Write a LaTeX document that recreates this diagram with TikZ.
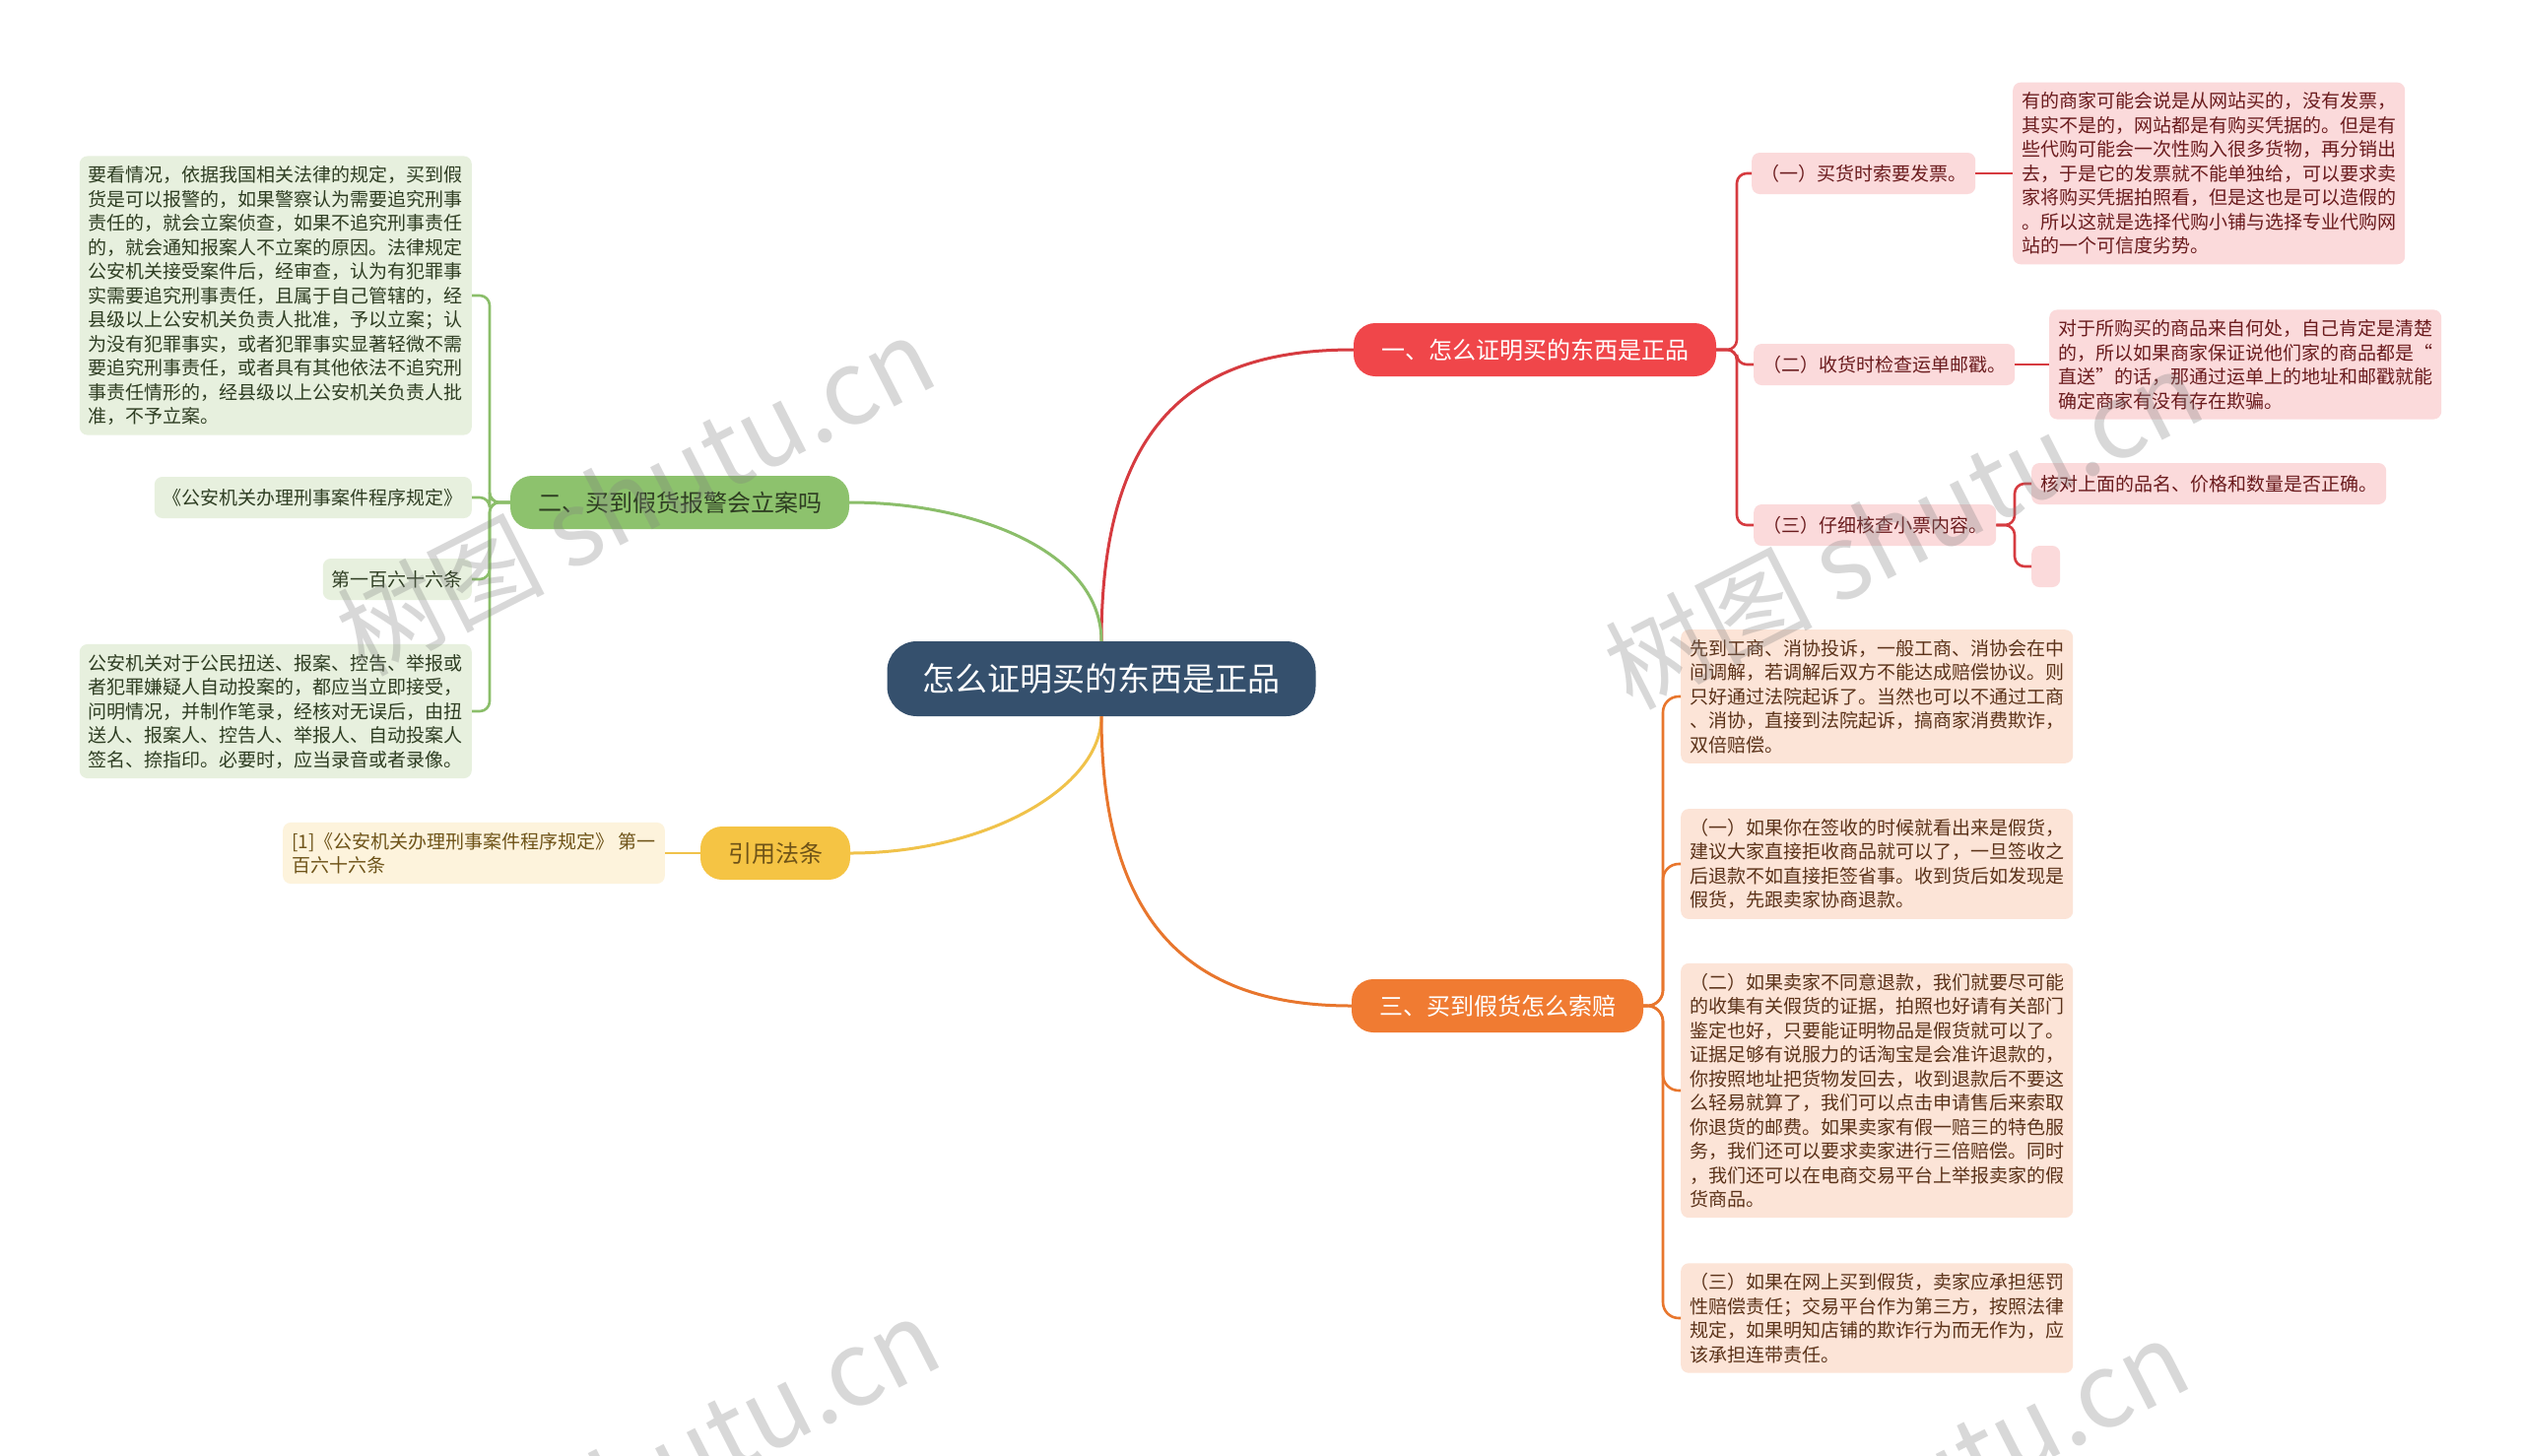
\documentclass[tikz,border=0pt]{standalone}
\usepackage{fontspec}
\setmainfont{Noto Sans CJK SC}

\definecolor{rootfill}{HTML}{35506D}
\definecolor{redmain}{HTML}{F0464A}
\definecolor{redline}{HTML}{D63B40}
\definecolor{redleaf}{HTML}{FBDADB}
\definecolor{redtext}{HTML}{6A1B1D}
\definecolor{greenmain}{HTML}{8DC26D}
\definecolor{greenline}{HTML}{8BBE6A}
\definecolor{greenleaf}{HTML}{E7F0DE}
\definecolor{greentext}{HTML}{2E3D22}
\definecolor{yellowmain}{HTML}{F5C444}
\definecolor{yellowline}{HTML}{F0C24A}
\definecolor{yellowleaf}{HTML}{FDF3DC}
\definecolor{yellowtext}{HTML}{6E5318}
\definecolor{orangemain}{HTML}{F07B32}
\definecolor{orangeline}{HTML}{E8762D}
\definecolor{orangeleaf}{HTML}{FCE4D7}
\definecolor{orangetext}{HTML}{5B3219}

\tikzset{
  rootbox/.style={fill=rootfill, text=white, rounded corners=30pt, minimum height=76pt,
    inner xsep=36pt, font=\fontsize{33}{40}\selectfont},
  branchbox/.style={rounded corners=22pt, minimum height=54pt, inner xsep=28pt,
    font=\fontsize{24}{29}\selectfont},
  leafbox/.style={rounded corners=8pt, minimum height=42pt, inner xsep=9pt, inner ysep=10pt,
    align=left, font=\fontsize{19}{24.5}\selectfont},
  redbox/.style={leafbox, fill=redleaf, text=redtext},
  greenbox/.style={leafbox, fill=greenleaf, text=greentext},
  yellowbox/.style={leafbox, fill=yellowleaf, text=yellowtext},
  orangebox/.style={leafbox, fill=orangeleaf, text=orangetext},
  link/.style={line width=3pt},
  brace/.style={line width=2.6pt, rounded corners=10pt},
  watermark/.style={text=gray, opacity=0.3, rotate=27, font=\fontsize{105}{115}\selectfont}
}

\begin{document}
\begin{tikzpicture}[x=1pt, y=-1pt]

\useasboundingbox [fill=white] (0,0) rectangle (2560,1478);

% centre and main branches
\node [rootbox] (root) at (1118,689) {怎么证明买的东西是正品};

\node [branchbox, fill=redmain, text=white] (proof) at (1558,355) {一、怎么证明买的东西是正品};
\node [branchbox, fill=greenmain, text=greentext] (police) at (690,510) {二、买到假货报警会立案吗};
\node [branchbox, fill=yellowmain, text=yellowtext] (law) at (787,866) {引用法条};
\node [branchbox, fill=orangemain, text=white] (claim) at (1520,1021) {三、买到假货怎么索赔};

\draw [link, redline] (root.north) .. controls (1118,420) and (1220,355) .. (proof.west);
\draw [link, greenline] (police.east) .. controls (990,510) and (1118,560) .. (root.north);
\draw [link, yellowline] (law.east) .. controls (1000,866) and (1118,800) .. (root.south);
\draw [link, orangeline] (root.south) .. controls (1118,950) and (1220,1021) .. (claim.west);

% branch 1
\node [redbox, anchor=west] (invoice) at (1778,176) {（一）买货时索要发票。};
\node [redbox, anchor=west] (invoicetxt) at (2043,176) {有的商家可能会说是从网站买的，没有发票，\\其实不是的，网站都是有购买凭据的。但是有\\些代购可能会一次性购入很多货物，再分销出\\去，于是它的发票就不能单独给，可以要求卖\\家将购买凭据拍照看，但是这也是可以造假的\\。所以这就是选择代购小铺与选择专业代购网\\站的一个可信度劣势。};
\node [redbox, anchor=west] (stamp) at (1780,370) {（二）收货时检查运单邮戳。};
\node [redbox, anchor=west] (stamptxt) at (2080,370) {对于所购买的商品来自何处，自己肯定是清楚\\的，所以如果商家保证说他们家的商品都是“\\直送”的话，那通过运单上的地址和邮戳就能\\确定商家有没有存在欺骗。};
\node [redbox, anchor=west] (receipt) at (1780,533) {（三）仔细核查小票内容。};
\node [redbox, anchor=west] (receipta) at (2062,491) {核对上面的品名、价格和数量是否正确。};
\node [redbox, anchor=west, minimum width=29pt, inner xsep=0pt] (receiptb) at (2062,575) {};

\draw [brace, redline] (proof.east) -- (1763,355) |- (invoice.west);
\draw [brace, redline] (proof.east) -- (1763,355) |- (stamp.west);
\draw [brace, redline] (proof.east) -- (1763,355) |- (receipt.west);
\draw [brace, redline] (invoice.east) -- (invoicetxt.west);
\draw [brace, redline] (stamp.east) -- (stamptxt.west);
\draw [brace, redline] (receipt.east) -- (2045,533) |- (receipta.west);
\draw [brace, redline] (receipt.east) -- (2045,533) |- (receiptb.west);

% branch 2
\node [greenbox, anchor=east] (answer) at (479,300) {要看情况，依据我国相关法律的规定，买到假\\货是可以报警的，如果警察认为需要追究刑事\\责任的，就会立案侦查，如果不追究刑事责任\\的，就会通知报案人不立案的原因。法律规定\\公安机关接受案件后，经审查，认为有犯罪事\\实需要追究刑事责任，且属于自己管辖的，经\\县级以上公安机关负责人批准，予以立案；认\\为没有犯罪事实，或者犯罪事实显著轻微不需\\要追究刑事责任，或者具有其他依法不追究刑\\事责任情形的，经县级以上公安机关负责人批\\准，不予立案。};
\node [greenbox, anchor=east] (rules) at (479,505) {《公安机关办理刑事案件程序规定》};
\node [greenbox, anchor=east] (article) at (479,588) {第一百六十六条};
\node [greenbox, anchor=east] (articletxt) at (479,722) {公安机关对于公民扭送、报案、控告、举报或\\者犯罪嫌疑人自动投案的，都应当立即接受，\\问明情况，并制作笔录，经核对无误后，由扭\\送人、报案人、控告人、举报人、自动投案人\\签名、捺指印。必要时，应当录音或者录像。};

\draw [brace, greenline] (police.west) -- (497,510) |- (answer.east);
\draw [brace, greenline] (police.west) -- (497,510) |- (rules.east);
\draw [brace, greenline] (police.west) -- (497,510) |- (article.east);
\draw [brace, greenline] (police.west) -- (497,510) |- (articletxt.east);

% cited law
\node [yellowbox, anchor=east] (source) at (675,866) {[1]《公安机关办理刑事案件程序规定》 第一\\百六十六条};

\draw [brace, yellowline] (law.west) -- (source.east);

% branch 3
\node [orangebox, anchor=west] (complain) at (1706,707) {先到工商、消协投诉，一般工商、消协会在中\\间调解，若调解后双方不能达成赔偿协议。则\\只好通过法院起诉了。当然也可以不通过工商\\、消协，直接到法院起诉，搞商家消费欺诈，\\双倍赔偿。};
\node [orangebox, anchor=west] (refuse) at (1706,877) {（一）如果你在签收的时候就看出来是假货，\\建议大家直接拒收商品就可以了，一旦签收之\\后退款不如直接拒签省事。收到货后如发现是\\假货，先跟卖家协商退款。};
\node [orangebox, anchor=west] (evidence) at (1706,1107) {（二）如果卖家不同意退款，我们就要尽可能\\的收集有关假货的证据，拍照也好请有关部门\\鉴定也好，只要能证明物品是假货就可以了。\\证据足够有说服力的话淘宝是会准许退款的，\\你按照地址把货物发回去，收到退款后不要这\\么轻易就算了，我们可以点击申请售后来索取\\你退货的邮费。如果卖家有假一赔三的特色服\\务，我们还可以要求卖家进行三倍赔偿。同时\\，我们还可以在电商交易平台上举报卖家的假\\货商品。};
\node [orangebox, anchor=west] (platform) at (1706,1338) {（三）如果在网上买到假货，卖家应承担惩罚\\性赔偿责任；交易平台作为第三方，按照法律\\规定，如果明知店铺的欺诈行为而无作为，应\\该承担连带责任。};

\draw [brace, orangeline, rounded corners=16pt] (claim.east) -- (1688,1021) |- (complain.west);
\draw [brace, orangeline, rounded corners=16pt] (claim.east) -- (1688,1021) |- (refuse.west);
\draw [brace, orangeline, rounded corners=16pt] (claim.east) -- (1688,1021) |- (evidence.west);
\draw [brace, orangeline, rounded corners=16pt] (claim.east) -- (1688,1021) |- (platform.west);

% watermarks
\node [watermark] (wma) at (645,502) {树图 shutu.cn};
\node [watermark] (wmb) at (1932,536) {树图 shutu.cn};
\node [watermark] (wmc) at (650,1498) {树图 shutu.cn};
\node [watermark] (wmd) at (1918,1520) {树图 shutu.cn};

\end{tikzpicture}
\end{document}
